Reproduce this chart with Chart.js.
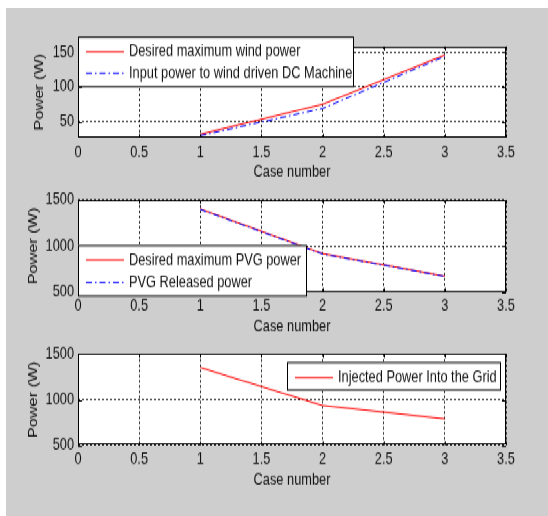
<!DOCTYPE html>
<html>
<head>
<meta charset="utf-8">
<script src="https://cdn.jsdelivr.net/npm/chart.js@4.4.0/dist/chart.umd.min.js"></script>
<style>
  html, body { margin: 0; padding: 0; background: #fff; }
  #wrap { position: relative; width: 548px; height: 516px; overflow: hidden; }
  #bg { position: absolute; left: 6px; top: 8px; right: 0; bottom: 0; background: #cecece; }
  /* the source figure is a vertically stretched screenshot, so stretch the drawing the same way */
  #stretch { position: absolute; left: 0; top: 0; width: 548px; height: 397px;
             transform: scaleY(1.2997); transform-origin: 0 0; }
  canvas { position: absolute; left: 0; top: 0; }
</style>
</head>
<body>
<div id="wrap">
  <div id="bg"></div>
  <div id="stretch">
    <canvas id="windChart" width="548" height="397"></canvas>
    <canvas id="pvgChart" width="548" height="397"></canvas>
    <canvas id="gridChart" width="548" height="397"></canvas>
  </div>
</div>
<script>
// values
const caseNo = [1, 2, 3];
const windDesired = [32, 75, 146];
const windInput = [30, 69, 144];
const pvgDesired = [1403, 916, 670];
const pvgReleased = [1398, 911, 668];
const gridInjected = [1352, 936, 791];

const xTicks = [0, 0.5, 1, 1.5, 2, 2.5, 3, 3.5];
const yTicksWind = [50, 100, 150];
const yTicksPower = [500, 1000, 1500];

const FONT = "'Liberation Sans', Arial, sans-serif";
const FS = 12.8;
const H = 397;          // canvas height before the stretch
const XAXIS_H = 40;
const RED = "#ff0000";
const BLUE = "#0000ff";
const INK = "#111";
const DASHDOT = [6, 3, 1.5, 3];

function pts(ys) { return caseNo.map((x, i) => ({ x: x, y: ys[i] })); }

// white axes, MATLAB style box with inward ticks, and a boxed legend
const matlabBox = {
  id: "matlabBox",
  beforeDraw(chart) {
    const a = chart.chartArea, ctx = chart.ctx;
    ctx.save();
    ctx.fillStyle = "#fff";
    ctx.fillRect(a.left, a.top, a.right - a.left, a.bottom - a.top);
    ctx.restore();
  },
  afterDatasetsDraw(chart, args, opts) {
    const a = chart.chartArea, ctx = chart.ctx;
    const xs = chart.scales.x, ys = chart.scales.y;
    ctx.save();
    ctx.strokeStyle = "#000";
    ctx.lineWidth = 1;
    ctx.setLineDash([]);
    ctx.strokeRect(Math.round(a.left) + 0.5, Math.round(a.top) + 0.5,
      Math.round(a.right - a.left) - 1, Math.round(a.bottom - a.top) - 1);
    ctx.beginPath();
    xs.ticks.forEach(t => {
      const px = Math.round(xs.getPixelForValue(t.value)) + 0.5;
      ctx.moveTo(px, a.top); ctx.lineTo(px, a.top + 3);
      ctx.moveTo(px, a.bottom); ctx.lineTo(px, a.bottom - 3);
    });
    ys.ticks.forEach(t => {
      const py = Math.round(ys.getPixelForValue(t.value)) + 0.5;
      ctx.moveTo(a.left, py); ctx.lineTo(a.left + 4, py);
      ctx.moveTo(a.right, py); ctx.lineTo(a.right - 4, py);
    });
    ctx.stroke();

    // legend
    const b = opts.box;
    if (b) {
      ctx.fillStyle = "#fff";
      ctx.fillRect(b.x, b.y, b.w, b.h);
      ctx.strokeStyle = "#000";
      ctx.strokeRect(b.x + 0.5, b.y + 0.5, b.w - 1, b.h - 1);
      ctx.font = FS + "px " + FONT;
      ctx.textBaseline = "middle";
      ctx.textAlign = "left";
      chart.data.datasets.forEach((ds, i) => {
        const ry = b.y + opts.firstRow + i * opts.rowGap;
        ctx.beginPath();
        ctx.strokeStyle = ds.borderColor;
        ctx.lineWidth = 1;
        ctx.setLineDash(ds.borderDash || []);
        ctx.moveTo(b.x + 8, ry);
        ctx.lineTo(b.x + 46, ry);
        ctx.stroke();
        ctx.setLineDash([]);
        ctx.fillStyle = INK;
        ctx.fillText(ds.label, b.x + 51, ry);
      });
    }
    ctx.restore();
  }
};

function makeChart(id, datasets, yMin, yMax, yTicks, top, bottom, titlePad, legend) {
  return new Chart(document.getElementById(id), {
    type: "line",
    data: { datasets: datasets },
    plugins: [matlabBox],
    options: {
      responsive: false,
      animation: false,
      layout: { padding: { top: top, right: 42, bottom: H - bottom - XAXIS_H, left: 0 } },
      plugins: {
        legend: { display: false },
        tooltip: { enabled: false },
        matlabBox: legend
      },
      elements: { point: { radius: 0 }, line: { tension: 0 } },
      scales: {
        x: {
          type: "linear",
          min: 0, max: 3.5,
          afterBuildTicks: s => { s.ticks = xTicks.map(v => ({ value: v })); },
          afterFit: s => { s.height = XAXIS_H; },
          ticks: {
            autoSkip: false, maxRotation: 0, padding: 3.5, color: INK,
            font: { family: FONT, size: FS },
            callback: v => String(v)
          },
          grid: { color: "#222", lineWidth: 1, drawTicks: false },
          border: { display: false, dash: [2, 2] },
          title: {
            display: true, text: "Case number", color: INK,
            font: { family: FONT, size: FS },
            padding: { top: 0, bottom: 5.8 }
          }
        },
        y: {
          min: yMin, max: yMax,
          afterBuildTicks: s => { s.ticks = yTicks.map(v => ({ value: v })); },
          afterFit: s => { s.width = 78; },
          ticks: {
            padding: 4, color: INK,
            font: { family: FONT, size: FS },
            callback: v => String(v)
          },
          grid: { color: "#222", lineWidth: 1, drawTicks: false },
          border: { display: false, dash: [2, 2] },
          title: {
            display: true, text: "Power (W)", color: INK,
            font: { family: FONT, size: 12.5 },
            padding: { top: titlePad, bottom: 0 }
          }
        }
      }
    }
  });
}

makeChart("windChart", [
  { label: "Desired maximum wind power", data: pts(windDesired), borderColor: RED, borderWidth: 1, order: 1 },
  { label: "Input power to wind driven DC Machine", data: pts(windInput), borderColor: BLUE, borderWidth: 1, borderDash: DASHDOT, order: 0 }
], 27, 158, yTicksWind, 35.9, 105.9, 32.5,
  { box: { x: 78, y: 28.2, w: 276, h: 39 }, firstRow: 11.6, rowGap: 16.6 });

makeChart("pvgChart", [
  { label: "Desired maximum PVG power", data: pts(pvgDesired), borderColor: RED, borderWidth: 1, order: 1 },
  { label: "PVG Released power", data: pts(pvgReleased), borderColor: BLUE, borderWidth: 1, borderDash: DASHDOT, order: 0 }
], 500, 1500, yTicksPower, 153.9, 224.5, 26.5,
  { box: { x: 78, y: 188.5, w: 229, h: 39.8 }, firstRow: 11.5, rowGap: 17.5 });

makeChart("gridChart", [
  { label: "Injected Power Into the Grid", data: pts(gridInjected), borderColor: RED, borderWidth: 1 }
], 500, 1500, yTicksPower, 272.4, 342.6, 26.5,
  { box: { x: 287, y: 278.5, w: 214, h: 22 }, firstRow: 12.1, rowGap: 0 });
</script>
</body>
</html>
